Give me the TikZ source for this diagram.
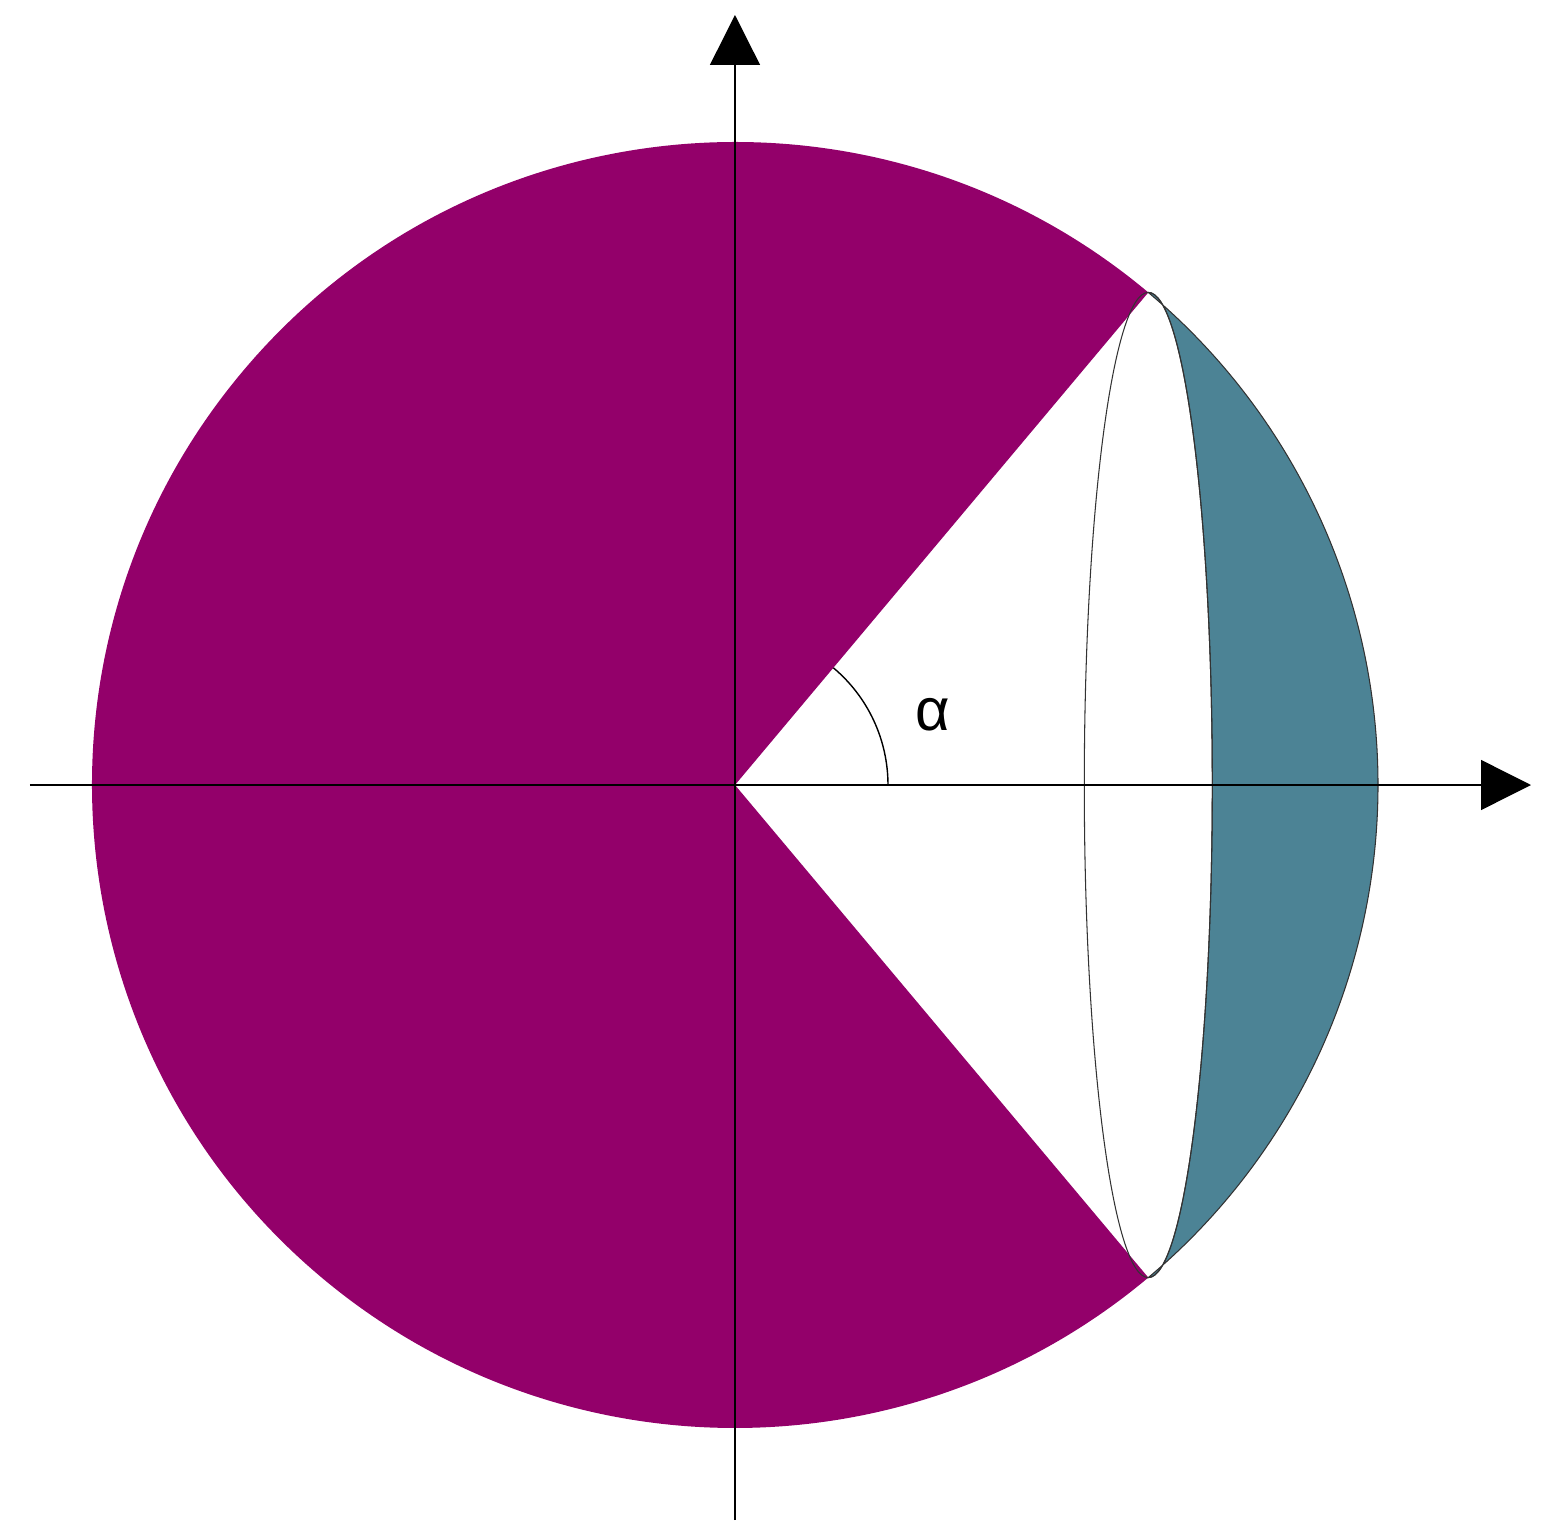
\documentclass[tikz,border=0pt]{standalone}
\usepackage{fontspec}
\setmainfont{Liberation Sans}
\usetikzlibrary{arrows.meta}
\definecolor{capPurple}{RGB}{147,0,106}
\definecolor{capTeal}{RGB}{76,131,149}

\begin{document}
\begin{tikzpicture}
        [line width=0.4pt,
         axis/.style={-{Triangle[length=5mm,width=5mm]}},
         rim/.style={line width=0.3pt, black!80}]
        \useasboundingbox (-7.35,-7.50) rectangle (8.20,7.85);

        % centre and rim points
        \coordinate (O)  at (0,0);
        \coordinate (P1) at (50:6.43);
        \coordinate (P2) at (-50:6.43);
        \coordinate (E)  at (4.133,0);

        % body without the cone
        \fill[capPurple] (O) -- (P1) arc[start angle=50, end angle=310, radius=6.43] -- cycle;

        % cap
        \filldraw[capTeal, draw=black!80, line width=0.3pt]
        (P1) arc[start angle=50, end angle=-50, radius=6.43]
             arc[start angle=-90, end angle=90, x radius=0.64, y radius=4.926];

        % base of the cap
        \draw[rim] (E) ellipse[x radius=0.64, y radius=4.926];

        % axes
        \coordinate (Xa) at (-7.05,0);
        \coordinate (Xb) at (7.96,0);
        \coordinate (Ya) at (0,-7.35);
        \coordinate (Yb) at (0,7.70);
        \draw[axis] (Xa) -- (Xb);
        \draw[axis] (Ya) -- (Yb);

        % angle
        \draw (1.53,0) arc[start angle=0, end angle=50, radius=1.53];
        \node (alpha) at (1.98,0.70) {\fontsize{17}{20}\selectfont α};
\end{tikzpicture}
\end{document}
